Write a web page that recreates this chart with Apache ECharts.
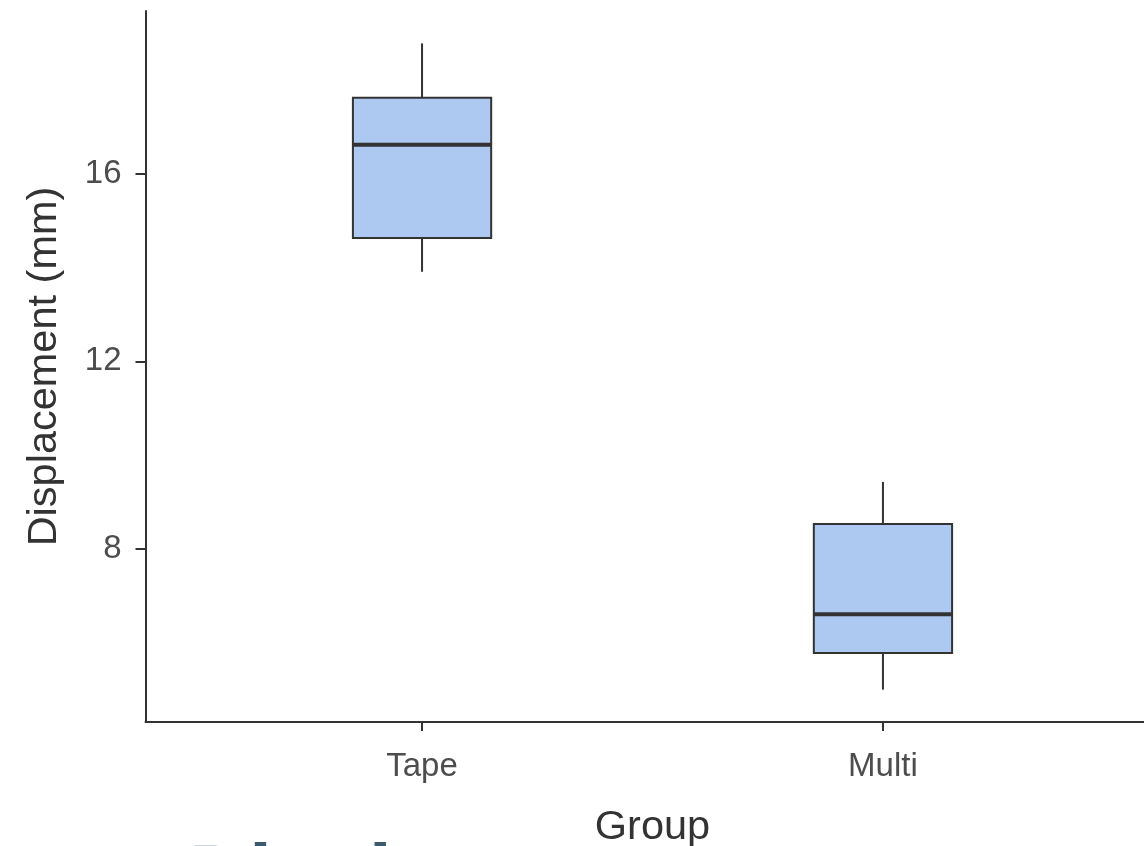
<!DOCTYPE html>
<html>
<head>
<meta charset="utf-8">
<title>Displacement by group</title>
<script src="https://cdn.jsdelivr.net/npm/echarts@6.0.0/dist/echarts.min.js"></script>
<style>
    html, body { margin: 0; padding: 0; background: #fff; }
    #main { width: 1144px; height: 846px; }
</style>
</head>
<body>
<div id="main"></div>
<script>
    // groups on the x axis (positions 1 and 2)
    let groups = ['Tape', 'Multi'];
    let groupPos = [1, 2];
    // five-number summaries
    let whiskerLow = [13.91, 5.00];
    let q1 = [14.63, 5.78];
    let median = [16.62, 6.61];
    let q3 = [17.62, 8.53];
    let whiskerHigh = [18.78, 9.43];
    let yTicks = [8, 12, 16];

    let boxData = groups.map(function (g, i) {
        return [groupPos[i], whiskerLow[i], q1[i], median[i], q3[i], whiskerHigh[i]];
    });

    function renderBox(params, api) {
        let x = api.value(0);
        let w = api.size([1, 0])[0] * 0.3;
        let pMin = api.coord([x, api.value(1)]);
        let pQ1 = api.coord([x, api.value(2)]);
        let pMed = api.coord([x, api.value(3)]);
        let pQ3 = api.coord([x, api.value(4)]);
        let pMax = api.coord([x, api.value(5)]);
        let cx = pMed[0];
        let line = {stroke: '#333333', lineWidth: 2};
        return {
            type: 'group',
            children: [
                {type: 'line', shape: {x1: cx, y1: pMax[1], x2: cx, y2: pQ3[1]}, style: line},
                {type: 'line', shape: {x1: cx, y1: pQ1[1], x2: cx, y2: pMin[1]}, style: line},
                {
                    type: 'rect',
                    shape: {x: cx - w / 2, y: pQ3[1], width: w, height: pQ1[1] - pQ3[1]},
                    style: {fill: '#adc8f1', stroke: '#333333', lineWidth: 2}
                },
                {
                    type: 'line',
                    shape: {x1: cx - w / 2, y1: pMed[1], x2: cx + w / 2, y2: pMed[1]},
                    style: {stroke: '#333333', lineWidth: 4}
                }
            ]
        };
    }

    let myChart = echarts.init(document.getElementById('main'));
    let font = '"Liberation Sans", Arial, sans-serif';
    let option = {
        backgroundColor: '#ffffff',
        animation: false,
        grid: {
            left: 145.5,
            top: 11,
            width: 1014,
            bottom: 124,
            outerBoundsMode: 'none',
            containLabel: false
        },
        xAxis: {
            type: 'value',
            min: 0.4,
            max: 2.6,
            name: 'Group',
            nameLocation: 'middle',
            nameGap: 85,
            nameTextStyle: {fontFamily: font, fontSize: 41.5, color: '#333333'},
            axisLine: {show: true, onZero: false, lineStyle: {color: '#333333', width: 2}},
            axisTick: {show: true, length: 9, customValues: groupPos, lineStyle: {color: '#333333', width: 2}},
            axisLabel: {
                customValues: groupPos,
                margin: 28,
                fontFamily: font,
                fontSize: 33,
                color: '#4d4d4d',
                formatter: function (v) {
                    return groups[Math.round(v) - 1];
                }
            },
            splitLine: {show: false}
        },
        yAxis: {
            type: 'value',
            min: 4.31,
            max: 19.47,
            name: 'Displacement (mm)',
            nameLocation: 'middle',
            nameGap: 80,
            nameTextStyle: {fontFamily: font, fontSize: 41.5, color: '#333333'},
            axisLine: {show: true, onZero: false, lineStyle: {color: '#333333', width: 2}},
            axisTick: {show: true, length: 10, customValues: yTicks, lineStyle: {color: '#333333', width: 2}},
            axisLabel: {
                customValues: yTicks,
                margin: 24,
                fontFamily: font,
                fontSize: 33,
                color: '#4d4d4d'
            },
            splitLine: {show: false}
        },
        series: [{
            type: 'custom',
            renderItem: renderBox,
            encode: {x: 0, y: [1, 2, 3, 4, 5]},
            data: boxData
        }],
        graphic: [{
            type: 'text',
            silent: true,
            z: 10,
            style: {
                text: 'Displ',
                x: 189,
                y: 880,
                verticalAlign: 'middle',
                font: 'bold 83px ' + font,
                fill: '#3e5b6d'
            }
        }]
    };
    myChart.setOption(option);
</script>
</body>
</html>
